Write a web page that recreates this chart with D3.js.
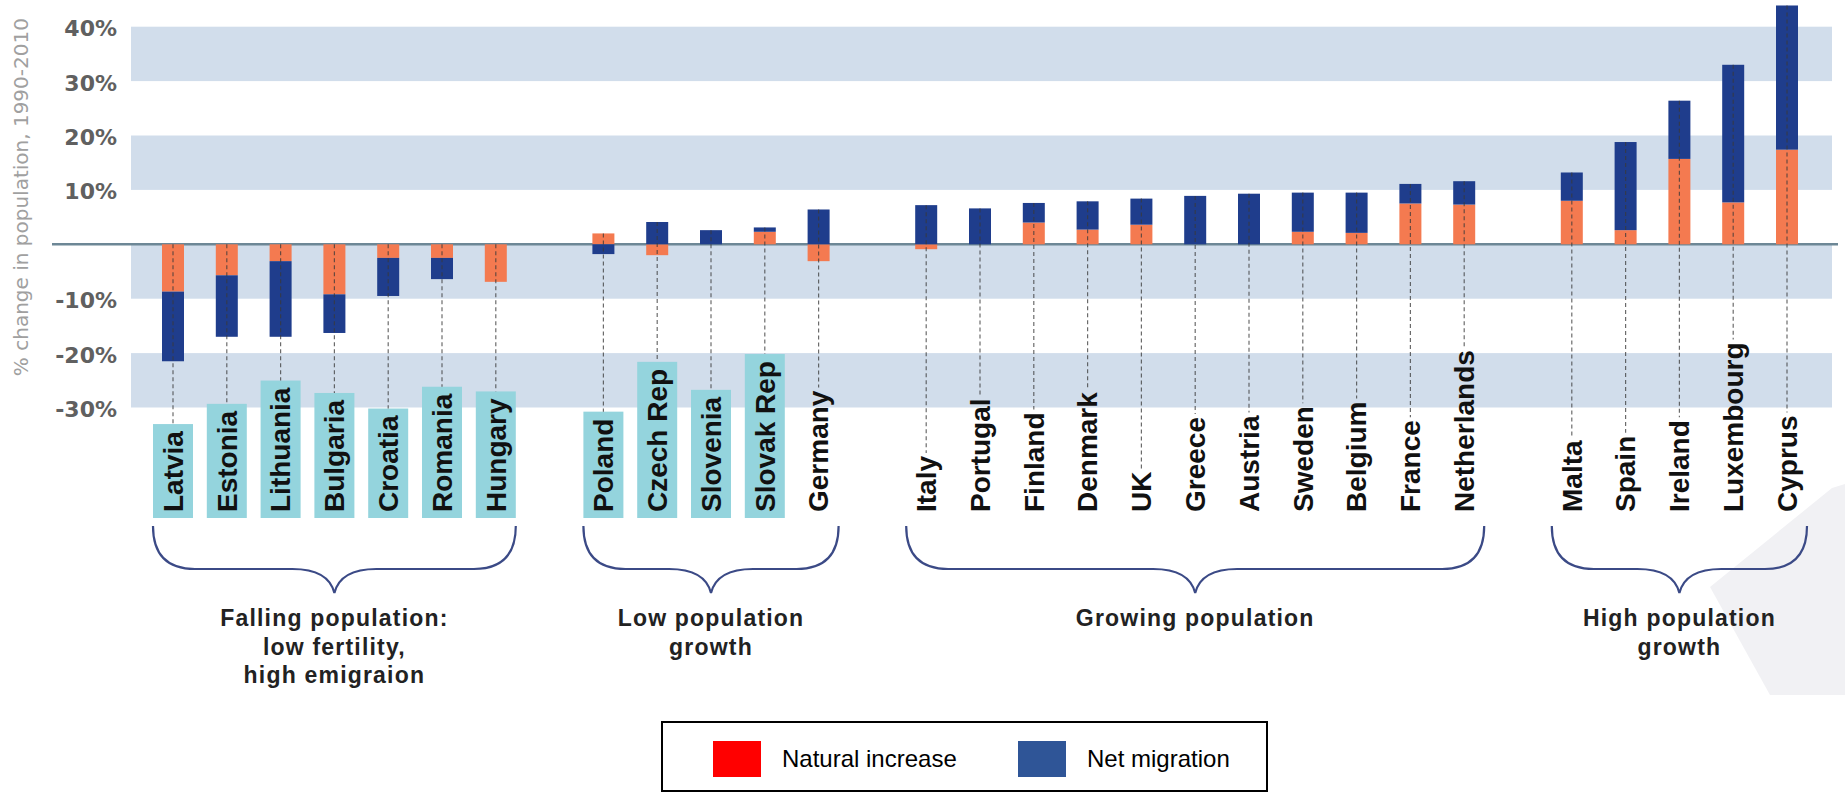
<!DOCTYPE html>
<html><head><meta charset="utf-8">
<script src="https://cdn.jsdelivr.net/npm/d3@7"></script>
<style>body{margin:0;background:#fff;} svg{display:block;}</style>
</head><body>
<svg id="chart" width="1845" height="793"></svg>
<script>
// ---------- data ----------
const countries = ["Latvia","Estonia","Lithuania","Bulgaria","Croatia","Romania","Hungary",
  "Poland","Czech Rep","Slovenia","Slovak Rep","Germany",
  "Italy","Portugal","Finland","Denmark","UK","Greece","Austria","Sweden","Belgium","France","Netherlands",
  "Malta","Spain","Ireland","Luxembourg","Cyprus"];
const naturalIncrease = [-8.7,-5.7,-3.1,-9.2,-2.5,-2.5,-6.9,
  2.0,-2.0,0.0,2.3,-3.1,
  -0.9,0.0,4.0,2.7,3.6,0.0,0.0,2.3,2.1,7.5,7.3,
  8.0,2.6,15.7,7.7,17.4];
const netMigration = [-12.8,-11.3,-13.9,-7.1,-7.0,-3.9,0.0,
  -1.8,4.1,2.6,0.8,6.4,
  7.2,6.6,3.6,5.2,4.8,8.9,9.3,7.2,7.4,3.6,4.3,
  5.2,16.2,10.7,25.3,26.5];
const groupSizes = [7,5,11,5];
const groupLabels = [["Falling population:","low fertility,","high emigraion"],
  ["Low population","growth"],["Growing population"],["High population","growth"]];
const boxedLabels = ["Latvia","Estonia","Lithuania","Bulgaria","Croatia","Romania","Hungary",
  "Poland","Czech Rep","Slovenia","Slovak Rep"];
const yTicks = [40,30,20,10,-10,-20,-30];
const shadedBands = [[40,30],[20,10],[0,-10],[-20,-30]];
const seriesKeys = ["natural","migration"];
const legendLabels = ["Natural increase","Net migration"];
const yTitle = "% change in population, 1990-2010";

// ---------- styles ----------
const barColors = {natural:"#f47a50", migration:"#1f3d8c"};
const legendColors = ["#ff0000","#2f5597"];

const svg = d3.select("#chart");

// slots with empty spacer between groups
const slots = [];
let idx = 0;
const groups = groupSizes.map((n,g)=>{
  const members = countries.slice(idx, idx+n); idx += n;
  members.forEach(m=>slots.push(m));
  if (g < groupSizes.length-1) slots.push("__gap"+g);
  return {members, label: groupLabels[g]};
});

const x = d3.scalePoint().domain(slots).range([173,1787]);
const y = d3.scaleLinear().domain([-30,40]).range([407.5,26.7]);
const plotL = 131, plotR = 1832;

// background decorative shape (bottom right)
svg.append("path")
  .attr("d","M1845,484 L1832,488 L1710,587 L1770,695 L1845,695 Z")
  .attr("fill","#f1f1f4");

// shaded bands
svg.append("g").selectAll("rect").data(shadedBands).join("rect")
  .attr("x",plotL).attr("width",plotR-plotL)
  .attr("y",d=>y(d[0])).attr("height",d=>y(d[1])-y(d[0]))
  .attr("fill","#d1ddeb");

// y axis labels
const yAxis = d3.axisLeft(y).tickValues(yTicks).tickFormat(d=>d+"%").tickSize(0).tickPadding(0);
const gy = svg.append("g").attr("transform","translate(117,2)").call(yAxis);
gy.select(".domain").remove();
gy.selectAll("text").attr("font-family","'DejaVu Sans', sans-serif").attr("font-weight","bold")
  .attr("font-size",22).attr("fill","#606060");

// y title
svg.append("text").attr("transform",`translate(28,${(y(40)+y(-30))/2-20}) rotate(-90)`)
  .attr("text-anchor","middle").attr("font-family","'DejaVu Sans', sans-serif")
  .attr("font-size",20).attr("fill","#a0a0a0").text(yTitle);

// zero line
svg.append("line").attr("x1",52).attr("x2",1838).attr("y1",y(0)).attr("y2",y(0))
  .attr("stroke","#6d8796").attr("stroke-width",2.5);

// stacked bars
const data = countries.map((c,i)=>({country:c, natural:naturalIncrease[i], migration:netMigration[i]}));
const stacked = d3.stack().keys(seriesKeys).offset(d3.stackOffsetDiverging)(data);
const bw = 22;
svg.append("g").selectAll("g").data(stacked).join("g")
  .attr("fill",s=>barColors[s.key])
  .selectAll("rect").data(s=>s).join("rect")
  .attr("x",d=>x(d.data.country)-bw/2).attr("width",bw)
  .attr("y",d=>y(Math.max(d[0],d[1]))).attr("height",d=>Math.abs(y(d[0])-y(d[1])));

// country labels
const labelBase = 512;
const lg = svg.append("g");
const labelInfo = countries.map(c=>{
  const g = lg.append("g");
  const t = g.append("text")
    .attr("transform",`translate(${x(c)},${labelBase}) rotate(-90)`)
    .attr("dy","0.35em").attr("text-anchor","start")
    .attr("font-family","'Liberation Sans', Arial, sans-serif").attr("font-weight","bold")
    .attr("font-size",28).attr("fill","#111").text(c);
  const len = t.node().getComputedTextLength();
  const boxed = boxedLabels.includes(c);
  let top = labelBase - len;
  if (boxed) {
    g.insert("rect","text").attr("x",x(c)-20).attr("width",40)
      .attr("y",top-7).attr("height",labelBase+6-(top-7)).attr("fill","#94d4dd");
    top = top-7;
  } else top = top-3;
  return {c, top};
});

// dashed leader lines
const posTotal = c => { const i = countries.indexOf(c); return Math.max(0,naturalIncrease[i]) + Math.max(0,netMigration[i]); };
svg.append("g").selectAll("line").data(labelInfo).join("line")
  .attr("x1",d=>x(d.c)).attr("x2",d=>x(d.c))
  .attr("y1",d=>y(posTotal(d.c))).attr("y2",d=>d.top)
  .attr("stroke","#3a3a3a").attr("stroke-opacity",0.75).attr("stroke-width",1.2)
  .attr("stroke-dasharray","4,3");

// braces and group labels
const yb0=526, ybh=569, ybt=593, r=42;
groups.forEach(gr=>{
  const x0 = x(gr.members[0])-20, x1 = x(gr.members[gr.members.length-1])+20, xm=(x0+x1)/2;
  svg.append("path")
    .attr("d",`M${x0},${yb0} Q${x0},${ybh} ${x0+r},${ybh} L${xm-r},${ybh} Q${xm-6},${ybh} ${xm},${ybt} Q${xm+6},${ybh} ${xm+r},${ybh} L${x1-r},${ybh} Q${x1},${ybh} ${x1},${yb0}`)
    .attr("fill","none").attr("stroke","#3b4a86").attr("stroke-width",2.2);
  const t = svg.append("text").attr("text-anchor","middle")
    .attr("font-family","'Liberation Sans', Arial, sans-serif").attr("font-weight","bold")
    .attr("font-size",23).attr("letter-spacing",1.2).attr("fill","#222");
  gr.label.forEach((line,i)=>t.append("tspan").attr("x",xm).attr("y",626+i*28.5).text(line));
});

// legend
const leg = svg.append("g");
leg.append("rect").attr("x",662).attr("y",722).attr("width",605).attr("height",69)
  .attr("fill","#fff").attr("stroke","#000").attr("stroke-width",2);
const legX = [713,1018];
legendLabels.forEach((l,i)=>{
  leg.append("rect").attr("x",legX[i]).attr("y",741).attr("width",48).attr("height",36).attr("fill",legendColors[i]);
  leg.append("text").attr("x",legX[i]+69).attr("y",767)
    .attr("font-family","'Liberation Sans', Arial, sans-serif").attr("font-size",24).attr("fill","#000").text(l);
});
</script>
</body></html>
